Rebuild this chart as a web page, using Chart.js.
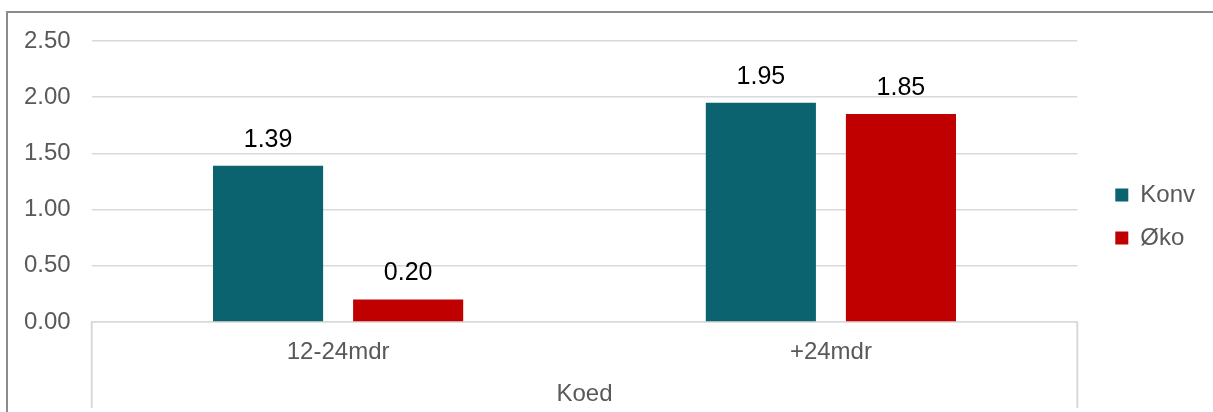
<!DOCTYPE html>
<html>
<head>
<meta charset="utf-8">
<script src="https://cdn.jsdelivr.net/npm/chart.js@4.4.1/dist/chart.umd.min.js"></script>
<style>
  html, body { margin: 0; padding: 0; overflow: hidden; background: #fff; }
  #frame { position: absolute; left: 6px; top: 11px; width: 1400px; height: 600px; border: 2px solid #8c8c8c; }
  #wrap { position: absolute; left: 0; top: 0; width: 1213px; height: 412px; }
</style>
</head>
<body>
<div id="frame"></div>
<div id="wrap"><canvas id="koedChart"></canvas></div>
<script>
// chart data
const categories = ['12-24mdr', '+24mdr'];
const groupLabel = 'Koed';
const seriesNames = ['Konv', 'Øko'];
const konvValues = [1.39, 1.95];
const okoValues = [0.20, 1.85];
const yMax = 2.5;
const yStep = 0.5;

const FONT = "'Liberation Sans', Arial, sans-serif";
const GRID = '#d9d9d9';
const TEXT = '#595959';

Chart.defaults.font.family = FONT;

// value labels above each bar
const barValueLabels = {
  id: 'barValueLabels',
  afterDatasetsDraw(chart) {
    const ctx = chart.ctx;
    ctx.save();
    ctx.font = '25px ' + FONT;
    ctx.fillStyle = '#000';
    ctx.textAlign = 'center';
    ctx.textBaseline = 'middle';
    chart.data.datasets.forEach((ds, i) => {
      chart.getDatasetMeta(i).data.forEach((bar, j) => {
        ctx.fillText(ds.data[j].toFixed(2), bar.x, bar.y - 26);
      });
    });
    ctx.restore();
  }
};

// vertical lines at both ends of the category axis
const categoryFrame = {
  id: 'categoryFrame',
  afterDraw(chart) {
    const x = chart.scales.x;
    const ctx = chart.ctx;
    ctx.save();
    ctx.strokeStyle = GRID;
    ctx.lineWidth = 2;
    ctx.beginPath();
    [x.left, x.right].forEach(px => {
      ctx.moveTo(px, chart.chartArea.bottom);
      ctx.lineTo(px, x.bottom + 2);
    });
    ctx.stroke();
    ctx.restore();
  }
};

// move the legend a bit away from the plot
const legendNudge = {
  id: 'legendNudge',
  afterLayout(chart) {
    const lg = chart.legend;
    if (!lg) return;
    lg.left += 19; lg.right += 19;
    lg.top -= 7; lg.bottom -= 7;
  }
};

const ctx = document.getElementById('koedChart').getContext('2d');

new Chart(ctx, {
  type: 'bar',
  data: {
    labels: categories,
    datasets: [
      {
        label: seriesNames[0],
        data: konvValues,
        backgroundColor: '#0b6370',
        categoryPercentage: 0.5685,
        barPercentage: 0.786,
      },
      {
        label: seriesNames[1],
        data: okoValues,
        backgroundColor: '#c00000',
        categoryPercentage: 0.5685,
        barPercentage: 0.786,
      },
    ],
  },
  options: {
    responsive: true,
    maintainAspectRatio: false,
    animation: false,
    layout: {
      padding: { left: 3, top: 41, right: 27, bottom: 6 },
    },
    plugins: {
      legend: {
        display: true,
        position: 'right',
        labels: {
          boxWidth: 13,
          boxHeight: 13,
          padding: 19,
          color: TEXT,
          font: { size: 24 },
        },
      },
      tooltip: { enabled: false },
    },
    scales: {
      x: {
        grid: { display: false, drawTicks: false },
        border: { display: true, color: GRID, width: 1.5 },
        ticks: { color: TEXT, font: { size: 24 }, padding: 15.6 },
        title: {
          display: true,
          text: groupLabel,
          color: TEXT,
          font: { size: 24, lineHeight: 1 },
          padding: { top: 0, bottom: 0 },
        },
      },
      y: {
        min: 0,
        max: yMax,
        grid: { color: GRID, lineWidth: 1.5, drawTicks: false },
        border: { display: false },
        ticks: {
          stepSize: yStep,
          color: TEXT,
          font: { size: 24 },
          padding: 21,
          callback: v => v.toFixed(2),
        },
      },
    },
  },
  plugins: [barValueLabels, categoryFrame, legendNudge],
});
</script>
</body>
</html>
